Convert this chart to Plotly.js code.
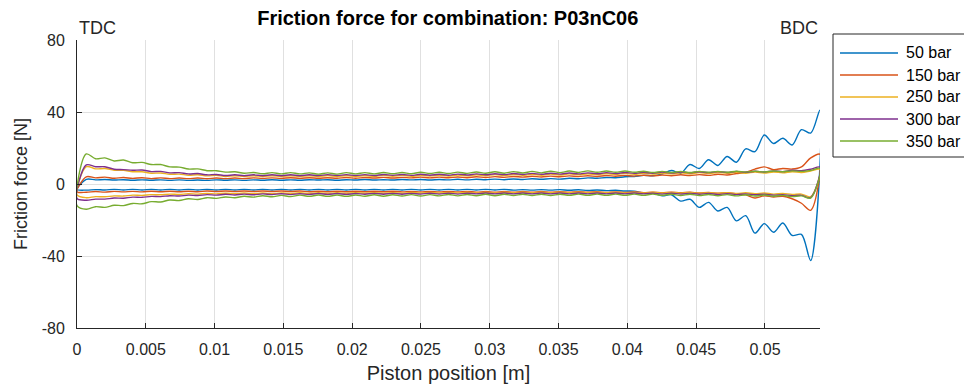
<!DOCTYPE html>
<html>
<head>
<meta charset="utf-8">
<script src="https://cdn.plot.ly/plotly-3.0.1.min.js"></script>
<style>
  html, body { margin: 0; padding: 0; background: #ffffff; }
  #chart { width: 964px; height: 391px; }
</style>
</head>
<body>
<div id="chart"></div>
<script>
// Piston position samples [m] (forward stroke, TDC -> BDC)
const position = [0, 0.000675, 0.00135, 0.002025, 0.0027, 0.003375, 0.00405, 0.004725, 0.0054, 0.006075,
  0.00675, 0.007425, 0.0081, 0.008775, 0.00945, 0.010125, 0.0108, 0.011475, 0.01215, 0.012825,
  0.0135, 0.014175, 0.01485, 0.015525, 0.0162, 0.016875, 0.01755, 0.018225, 0.0189, 0.019575,
  0.02025, 0.020925, 0.0216, 0.022275, 0.02295, 0.023625, 0.0243, 0.024975, 0.02565, 0.026325,
  0.027, 0.027675, 0.02835, 0.029025, 0.0297, 0.030375, 0.03105, 0.031725, 0.0324, 0.033075,
  0.03375, 0.034425, 0.0351, 0.035775, 0.03645, 0.037125, 0.0378, 0.038475, 0.03915, 0.039825,
  0.0405, 0.041175, 0.04185, 0.042525, 0.0432, 0.043875, 0.04455, 0.045225, 0.0459, 0.046575,
  0.04725, 0.047925, 0.0486, 0.049275, 0.04995, 0.050625, 0.0513, 0.051975, 0.05265, 0.053325,
  0.054];

const seriesNames = ["50 bar", "150 bar", "250 bar", "300 bar", "350 bar"];

// Friction force [N], stroke towards BDC (index 0..80)
const up50 = [-3.0,
  2.6, 2.3, 2.5, 2.2, 2.4, 2.1, 2.3, 2.1, 2.3, 2.0,
  2.3, 2.0, 2.2, 2.0, 2.3, 2.1, 2.3, 2.0, 2.3, 2.1,
  2.4, 2.1, 2.3, 2.1, 2.4, 2.2, 2.4, 2.1, 2.4, 2.2,
  2.5, 2.2, 2.4, 2.2, 2.5, 2.3, 2.5, 2.2, 2.5, 2.3,
  2.6, 2.3, 2.6, 2.4, 2.7, 2.4, 2.8, 2.5, 2.9, 2.6,
  3.0, 2.7, 3.2, 2.9, 3.4, 3.2, 3.6, 3.5, 4.0, 4.2,
  4.8, 4.6, 5.6, 7.5, 6.0, 10.8, 8.6, 13.5, 10.3, 15.3,
  12.1, 19.5, 18.0, 27.2, 22.5, 25.4, 21.7, 30.2, 28.3, 41.0];
const up150 = [-4.3,
  4.0, 3.4, 3.8, 3.2, 3.6, 3.1, 3.5, 3.0, 3.4, 3.0,
  3.3, 3.0, 3.3, 2.9, 3.3, 3.0, 3.3, 3.0, 3.4, 3.1,
  3.4, 3.1, 3.5, 3.1, 3.5, 3.2, 3.5, 3.2, 3.6, 3.2,
  3.6, 3.3, 3.7, 3.3, 3.7, 3.4, 3.8, 3.4, 3.8, 3.5,
  3.9, 3.5, 4.0, 3.6, 4.1, 3.7, 4.2, 3.8, 4.3, 3.9,
  4.4, 4.0, 4.5, 4.1, 4.6, 4.2, 4.7, 4.3, 4.8, 4.4,
  4.9, 4.5, 5.0, 4.6, 5.1, 4.7, 5.2, 4.8, 5.4, 5.0,
  5.8, 6.5, 8.3, 9.5, 8.0, 8.6, 8.3, 9.5, 14.5, 16.5];
const up250 = [-6.0,
  9.6, 8.4, 8.6, 7.6, 7.6, 6.8, 6.8, 6.0, 6.1, 5.4,
  5.5, 4.9, 5.1, 4.5, 4.8, 4.2, 4.6, 4.1, 4.6, 4.1,
  4.6, 4.1, 4.6, 4.1, 4.6, 4.2, 4.7, 4.2, 4.7, 4.2,
  4.7, 4.2, 4.8, 4.3, 4.8, 4.3, 4.9, 4.4, 4.9, 4.4,
  5.0, 4.5, 5.1, 4.6, 5.2, 4.7, 5.3, 4.8, 5.4, 4.9,
  5.5, 5.0, 5.6, 5.1, 5.7, 5.2, 5.8, 5.3, 5.9, 5.4,
  6.0, 5.5, 6.1, 5.6, 6.2, 5.7, 6.3, 5.8, 6.4, 5.9,
  6.5, 6.0, 6.6, 6.1, 6.7, 6.2, 6.8, 6.4, 7.2, 8.0];
const up300 = [-8.0,
  10.6, 9.6, 9.6, 8.2, 8.0, 7.6, 7.8, 6.9, 7.0, 6.2,
  6.3, 5.6, 5.8, 5.1, 5.3, 4.7, 5.1, 4.6, 5.1, 4.6,
  5.1, 4.6, 5.1, 4.6, 5.1, 4.7, 5.2, 4.7, 5.2, 4.7,
  5.2, 4.7, 5.3, 4.8, 5.3, 4.8, 5.4, 4.9, 5.4, 4.9,
  5.5, 5.0, 5.6, 5.1, 5.7, 5.2, 5.8, 5.3, 5.9, 5.4,
  6.0, 5.5, 6.1, 5.6, 6.2, 5.7, 6.3, 5.8, 6.4, 5.9,
  6.5, 6.0, 6.6, 6.1, 6.7, 6.2, 6.8, 6.3, 6.9, 6.4,
  7.0, 6.5, 7.1, 6.7, 7.3, 6.9, 7.6, 7.4, 8.2, 9.4];
const up350 = [-12.0,
  16.7, 14.0, 14.5, 12.8, 13.3, 11.8, 12.0, 10.8, 10.8, 9.5,
  9.4, 8.3, 8.4, 7.4, 7.4, 6.6, 6.8, 6.0, 6.4, 5.7,
  6.3, 5.6, 6.3, 5.6, 6.2, 5.5, 6.2, 5.5, 6.3, 5.6,
  6.3, 5.6, 6.4, 5.7, 6.4, 5.7, 6.5, 5.8, 6.5, 5.8,
  6.6, 5.9, 6.7, 6.0, 6.8, 6.0, 6.9, 6.1, 7.0, 6.2,
  7.1, 6.3, 7.2, 6.4, 7.3, 6.5, 7.2, 6.5, 7.2, 6.5,
  7.1, 6.4, 7.0, 6.4, 7.0, 6.4, 7.0, 6.5, 7.0, 6.5,
  7.1, 6.6, 7.1, 6.7, 7.2, 6.8, 7.3, 7.0, 7.6, 8.6];

// Friction force [N], return stroke towards TDC (same positions, index 0..79)
const down50 = [-3.0,
  -3.4, -3.1, -3.3, -3.0, -3.3, -3.0, -3.3, -3.0, -3.3, -3.0,
  -3.3, -3.0, -3.3, -3.0, -3.3, -3.0, -3.3, -3.0, -3.3, -3.0,
  -3.3, -3.0, -3.3, -3.0, -3.3, -3.0, -3.3, -3.0, -3.3, -3.0,
  -3.3, -3.0, -3.3, -3.0, -3.3, -3.0, -3.3, -3.0, -3.3, -3.0,
  -3.3, -3.0, -3.3, -3.0, -3.3, -3.0, -3.4, -3.1, -3.4, -3.1,
  -3.4, -3.1, -3.5, -3.2, -3.6, -3.3, -3.7, -3.5, -3.9, -4.0,
  -5.0, -5.0, -6.5, -6.0, -9.5, -8.5, -13.0, -10.2, -15.0, -13.0,
  -20.5, -17.6, -27.3, -22.0, -26.8, -21.7, -28.6, -28.0, -42.5];
const down150 = [-4.3,
  -4.6, -4.2, -4.5, -4.1, -4.4, -4.1, -4.4, -4.0, -4.3, -4.0,
  -4.3, -4.0, -4.3, -3.9, -4.2, -3.9, -4.2, -3.9, -4.2, -3.9,
  -4.2, -3.9, -4.2, -3.9, -4.3, -4.0, -4.3, -4.0, -4.3, -4.0,
  -4.3, -4.0, -4.3, -4.0, -4.4, -4.1, -4.4, -4.1, -4.4, -4.1,
  -4.4, -4.1, -4.5, -4.2, -4.5, -4.2, -4.5, -4.2, -4.5, -4.2,
  -4.6, -4.3, -4.6, -4.3, -4.6, -4.3, -4.7, -4.4, -4.7, -4.4,
  -4.8, -4.5, -4.8, -4.5, -4.9, -4.6, -5.0, -4.7, -5.1, -4.9,
  -5.4, -6.0, -7.8, -6.6, -7.2, -6.8, -8.2, -10.7, -14.6];
const down250 = [-6.0,
  -7.6, -7.0, -7.1, -6.6, -6.7, -6.2, -6.3, -5.9, -6.0, -5.6,
  -5.8, -5.4, -5.6, -5.2, -5.5, -5.1, -5.4, -5.0, -5.4, -5.0,
  -5.4, -5.0, -5.3, -4.9, -5.3, -4.9, -5.3, -4.9, -5.2, -4.8,
  -5.2, -4.8, -5.2, -4.8, -5.1, -4.7, -5.1, -4.7, -5.1, -4.7,
  -5.0, -4.6, -5.0, -4.6, -5.0, -4.6, -4.9, -4.5, -4.9, -4.5,
  -4.9, -4.5, -4.9, -4.5, -4.9, -4.5, -4.9, -4.5, -5.0, -4.6,
  -5.0, -4.6, -5.0, -4.7, -5.1, -4.7, -5.1, -4.8, -5.2, -4.8,
  -5.3, -4.9, -5.4, -5.0, -5.6, -5.2, -5.8, -5.6, -7.0];
const down300 = [-8.0,
  -9.0, -8.4, -8.4, -7.8, -7.9, -7.3, -7.4, -6.9, -7.0, -6.5,
  -6.7, -6.2, -6.4, -5.9, -6.2, -5.7, -6.1, -5.6, -6.0, -5.5,
  -5.9, -5.4, -5.9, -5.4, -5.8, -5.3, -5.8, -5.3, -5.8, -5.3,
  -5.7, -5.2, -5.7, -5.2, -5.7, -5.2, -5.6, -5.1, -5.6, -5.1,
  -5.6, -5.1, -5.5, -5.0, -5.5, -5.0, -5.5, -5.0, -5.5, -5.0,
  -5.5, -5.0, -5.5, -5.0, -5.5, -5.0, -5.5, -5.0, -5.5, -5.0,
  -5.5, -5.1, -5.6, -5.1, -5.6, -5.2, -5.7, -5.3, -5.8, -5.4,
  -5.9, -5.5, -6.0, -5.7, -6.2, -5.9, -6.5, -6.3, -7.5];
const down350 = [-12.0,
  -14.0, -12.6, -13.0, -11.8, -12.0, -10.8, -11.0, -9.8, -10.0, -8.9,
  -9.2, -8.2, -8.6, -7.6, -8.0, -7.2, -7.6, -6.8, -7.3, -6.5,
  -7.1, -6.3, -7.0, -6.2, -6.9, -6.1, -6.9, -6.1, -6.9, -6.1,
  -6.8, -6.0, -6.8, -6.0, -6.7, -5.9, -6.7, -5.9, -6.6, -5.8,
  -6.6, -5.8, -6.5, -5.7, -6.5, -5.7, -6.4, -5.7, -6.4, -5.7,
  -6.4, -5.7, -6.3, -5.6, -6.3, -5.6, -6.3, -5.6, -6.3, -5.6,
  -6.3, -5.6, -6.3, -5.7, -6.4, -5.7, -6.4, -5.8, -6.5, -5.9,
  -6.6, -6.0, -6.7, -6.1, -6.8, -6.3, -7.0, -6.6, -7.8];

const xTickVals = [0, 0.005, 0.01, 0.015, 0.02, 0.025, 0.03, 0.035, 0.04, 0.045, 0.05];
const xTickText = ["0", "0.005", "0.01", "0.015", "0.02", "0.025", "0.03", "0.035", "0.04", "0.045", "0.05"];
const yTickVals = [-80, -40, 0, 40, 80];
const yTickText = ["-80", "-40", "0", "40", "80"];

const colors = ["#0072BD", "#D95319", "#EDB120", "#7E2F8E", "#77AC30"];
const ups = [up50, up150, up250, up300, up350];
const downs = [down50, down150, down250, down300, down350];

const FONT = "Liberation Sans, Arial, Helvetica, sans-serif";
const INK = "#262626";

// Figure geometry (px) used to place the MATLAB-style legend box
const W = 964, H = 391;
const M = { l: 77, r: 144, t: 40, b: 63 };
const PW = W - M.l - M.r, PH = H - M.t - M.b;
const px2x = (px) => (px - M.l) / PW;          // page x -> paper x
const py2y = (py) => (H - M.b - py) / PH;      // page y -> paper y
const LEG = { left: 833, right: 975, top: 34, bottom: 157, firstRow: 53, rowGap: 22,
              lineStart: 840, lineEnd: 898, textStart: 904 };

const traces = seriesNames.map((name, k) => {
  const back = position.slice(0, downs[k].length).reverse();
  return {
    type: "scatter",
    mode: "lines",
    name: name,
    legendgroup: name,
    showlegend: false,
    x: position.concat(back),
    y: ups[k].concat(downs[k].slice().reverse()),
    line: { color: colors[k], width: 1.4, shape: "spline", smoothing: 0.9 },
    hoverinfo: "x+y+name"
  };
});

const shapes = [{
  type: "rect", xref: "paper", yref: "paper", layer: "above",
  x0: px2x(LEG.left), x1: px2x(LEG.right), y0: py2y(LEG.bottom), y1: py2y(LEG.top),
  fillcolor: "#ffffff", line: { color: INK, width: 1 }
}];
const legendTexts = [];
seriesNames.forEach((name, k) => {
  const yRow = py2y(LEG.firstRow + k * LEG.rowGap);
  shapes.push({
    type: "line", xref: "paper", yref: "paper", layer: "above",
    x0: px2x(LEG.lineStart), x1: px2x(LEG.lineEnd), y0: yRow, y1: yRow,
    line: { color: colors[k], width: 1.4 }
  });
  legendTexts.push({
    text: name, xref: "paper", yref: "paper", x: px2x(LEG.textStart), y: yRow,
    xanchor: "left", yanchor: "middle", showarrow: false,
    font: { family: FONT, size: 16, color: "#000000" }
  });
});

const layout = {
  width: W,
  height: H,
  margin: { l: M.l, r: M.r, t: M.t, b: M.b, autoexpand: false },
  paper_bgcolor: "#ffffff",
  plot_bgcolor: "#ffffff",
  font: { family: FONT, color: INK },
  showlegend: false,
  title: {
    text: "Friction force for combination: P03nC06",
    font: { family: FONT, size: 20, color: "#000000", weight: "bold" },
    x: 0.4645, xref: "container", xanchor: "center",
    y: 0.953, yref: "container", yanchor: "middle"
  },
  xaxis: {
    range: [0, 0.054],
    tickmode: "array",
    tickvals: xTickVals,
    ticktext: xTickText,
    showgrid: true,
    gridcolor: "#e0e0e0",
    gridwidth: 1,
    zeroline: false,
    showline: true,
    linecolor: INK,
    linewidth: 1,
    mirror: false,
    ticks: "inside",
    ticklen: 5,
    tickcolor: INK,
    ticklabelstandoff: 7,
    tickfont: { family: FONT, size: 16, color: INK },
    title: { text: "Piston position [m]", font: { family: FONT, size: 20, color: INK }, standoff: 8 }
  },
  yaxis: {
    range: [-80, 80],
    tickmode: "array",
    tickvals: yTickVals,
    ticktext: yTickText,
    showgrid: true,
    gridcolor: "#e0e0e0",
    gridwidth: 1,
    zeroline: false,
    showline: true,
    linecolor: INK,
    linewidth: 1,
    mirror: false,
    ticks: "inside",
    ticklen: 5,
    tickcolor: INK,
    ticklabelstandoff: 8,
    tickfont: { family: FONT, size: 16, color: INK },
    title: { text: "Friction force [N]", font: { family: FONT, size: 18, color: INK }, standoff: 9 }
  },
  shapes: shapes,
  annotations: [
    { text: "TDC", xref: "paper", yref: "paper", x: 0, y: 1, xanchor: "left", yanchor: "bottom",
      showarrow: false, font: { family: FONT, size: 18, color: INK } },
    { text: "BDC", xref: "paper", yref: "paper", x: 1, y: 1, xanchor: "right", yanchor: "bottom",
      showarrow: false, font: { family: FONT, size: 18, color: INK } }
  ].concat(legendTexts)
};

Plotly.newPlot("chart", traces, layout, { staticPlot: true, displayModeBar: false });
</script>
</body>
</html>
